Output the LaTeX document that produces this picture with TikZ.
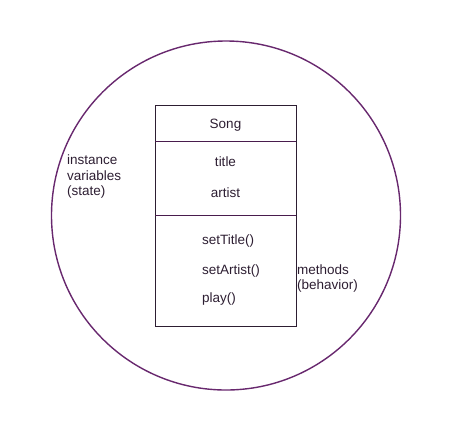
\documentclass[tikz,border=0pt]{standalone}
\usepackage{fontspec}
\setmainfont{Liberation Sans}
\usepackage{tikz}
\usetikzlibrary{positioning}
\definecolor{objpurple}{RGB}{104,40,110}
\definecolor{txtgray}{RGB}{45,30,50}

\begin{document}
\begin{tikzpicture}[x=1pt, y=-1pt,
    obj/.style={circle, draw=objpurple, line width=1.4pt, minimum size=349pt, inner sep=0pt},
    classbox/.style={rectangle, draw=txtgray, line width=0.9pt, minimum width=141pt, minimum height=221pt, inner sep=0pt},
    sep/.style={draw=objpurple!70!black, line width=0.9pt},
    lbl/.style={font=\fontsize{13.5}{15.5}\selectfont, text=txtgray, inner sep=0pt},
    side/.style={lbl, align=left, anchor=west}
]
    \useasboundingbox (0,0) rectangle (452,432);

    % Object
    \node[obj] (song) at (226,215.5) {};

    % Class box
    \node[classbox] (cls) at (225.5,215.5) {};
    \coordinate (a1) at (155,141);
    \coordinate (a2) at (296,141);
    \coordinate (b1) at (155,215);
    \coordinate (b2) at (296,215);
    \draw[sep] (a1) -- (a2);
    \draw[sep] (b1) -- (b2);

    % Name and attributes
    \node[lbl] (name) at (225.5,125) {Song};
    \node[lbl] (title) at (225.5,162) {title};
    \node[lbl] (artist) at (225.5,193) {artist};

    % Methods
    \node[lbl, anchor=west] (settitle) at (202,241) {setTitle()};
    \node[lbl, anchor=west] (setartist) at (202,270.5) {setArtist()};
    \node[lbl, anchor=west] (play) at (202,299) {play()};

    % Side notes
    \node[side] (state) at (67,176.5) {instance\\variables\\(state)};
    \node[side] (behav) at (297,278.5) {methods\\(behavior)};
\end{tikzpicture}
\end{document}
